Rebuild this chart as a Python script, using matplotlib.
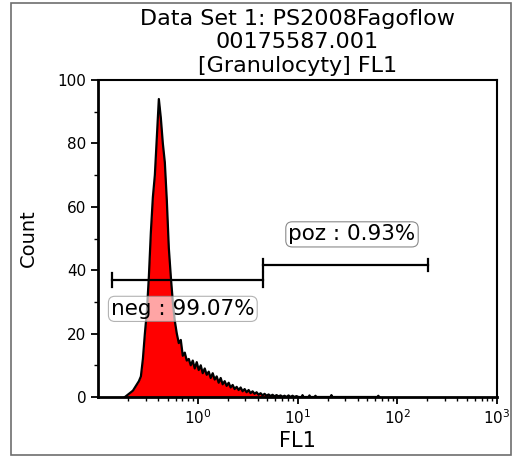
"""Flow cytometry FL1 histogram for granulocytes with neg/poz gates."""
import matplotlib

matplotlib.use("Agg")
import matplotlib.pyplot as plt  # noqa: E402
import numpy as np  # noqa: E402
from matplotlib.patches import Rectangle  # noqa: E402
from matplotlib.ticker import FixedLocator, LogLocator, NullFormatter  # noqa: E402

# histogram: bin centres in log10(FL1), 0.02 decade wide
log_start = -0.73
counts = [
    0, 0.5, 1, 1.5, 2, 3, 4, 5, 6.5, 12,
    20, 27, 38, 52, 63, 70, 82, 94, 88, 80,
    74, 62, 47, 38, 30, 24, 20, 17, 18, 13,
    14, 11.5, 12, 10, 11.5, 9, 11, 8.5, 10, 7.5,
    9, 7, 8, 6, 7.5, 5.5, 6.5, 4.5, 6, 4,
    5, 3.5, 4.5, 3, 3.8, 2.5, 3.2, 2.2, 3, 1.8,
    2.5, 1.5, 2.2, 1.2, 1.8, 1, 1.5, 0.7, 1.2, 0.5,
    1, 0.4, 0.8, 0.3, 0.7, 0.2, 0.6, 0.2, 0.5, 0.1,
    0.4, 0, 0.5, 0, 0.4, 0, 0.3, 0, 0, 0,
]
# sparse events further out (log10 position, count)
tail_log = [1.05, 1.12, 1.18, 1.34, 1.81]
tail_cnt = [0.6, 0.5, 0.4, 0.6, 0.4]

# gates: (start, end, level)
neg_gate = (0.137, 4.5, 36.9)
poz_gate = (4.54, 203.0, 41.6)
neg_label = "neg : 99.07%"
poz_label = "poz : 0.93%"

title = "Data Set 1: PS2008Fagoflow\n00175587.001\n[Granulocyty] FL1"

W, H = 512, 457
fig = plt.figure(figsize=(W / 100, H / 100), dpi=100)
fig.patches.append(Rectangle((11 / W, 2 / H), 1 - 12 / W, 1 - 5 / H,
                             transform=fig.transFigure, fill=False,
                             edgecolor="#6e6e6e", lw=1.2))
ax = fig.add_axes([98 / W, 1 - 397 / H, 399 / W, 317 / H])

# assemble the trace
logs = log_start + 0.02 * np.arange(len(counts))
xs = list(10 ** logs)
ys = list(counts)
for lg, c in zip(tail_log, tail_cnt):
    xs += [10 ** (lg - 0.01), 10 ** lg, 10 ** (lg + 0.01)]
    ys += [0, c, 0]
order = np.argsort(xs)
xs = np.array(xs)[order]
ys = np.array(ys)[order]

ax.fill_between(xs, ys, 0, color="#ff0000", lw=0, zorder=2)
ax.plot(xs, ys, color="black", lw=1.6, zorder=3)

# gate bars with end caps
for (a, b, lvl), cap in ((neg_gate, 2.3), (poz_gate, 2.0)):
    ax.plot([a, b], [lvl, lvl], color="black", lw=1.6, zorder=4)
    for e in (a, b):
        ax.plot([e, e], [lvl - cap, lvl + cap], color="black", lw=1.6, zorder=4)

box = dict(boxstyle="round,pad=0.12,rounding_size=0.3", facecolor="white",
           alpha=0.65, edgecolor="#8a8a8a", lw=0.8)
ax.text(0.135, 27.8, neg_label, fontsize=15.5, va="center", ha="left",
        bbox=box, zorder=5)
ax.text(8.1, 51.3, poz_label, fontsize=15.5, va="center", ha="left",
        bbox=dict(box, alpha=1.0), zorder=5)

ax.set_xscale("log")
ax.set_xlim(0.1, 1000)
ax.set_ylim(0, 100)
ax.xaxis.set_major_locator(FixedLocator([1, 10, 100, 1000]))
ax.xaxis.set_minor_locator(LogLocator(base=10, subs=np.arange(2, 10), numticks=20))
ax.xaxis.set_minor_formatter(NullFormatter())
ax.set_yticks(np.arange(0, 101, 20))
ax.set_yticks(np.arange(10, 100, 20), minor=True)
ax.tick_params(axis="both", which="major", direction="out", length=5, width=1.3,
               labelsize=11, colors="black")
ax.tick_params(axis="both", which="minor", direction="out", length=3, width=1.0)
ax.tick_params(axis="x", which="major", pad=3)
for sp in ax.spines.values():
    sp.set_linewidth(1.5)
ax.spines["left"].set_linewidth(2)
ax.spines["bottom"].set_linewidth(2)

ax.set_xlabel("FL1", fontsize=15, labelpad=3)
ax.set_ylabel("Count", fontsize=14, labelpad=14)
ax.set_title(title, fontsize=16, linespacing=1.2, pad=6)

fig.savefig("out.png", dpi=100)
